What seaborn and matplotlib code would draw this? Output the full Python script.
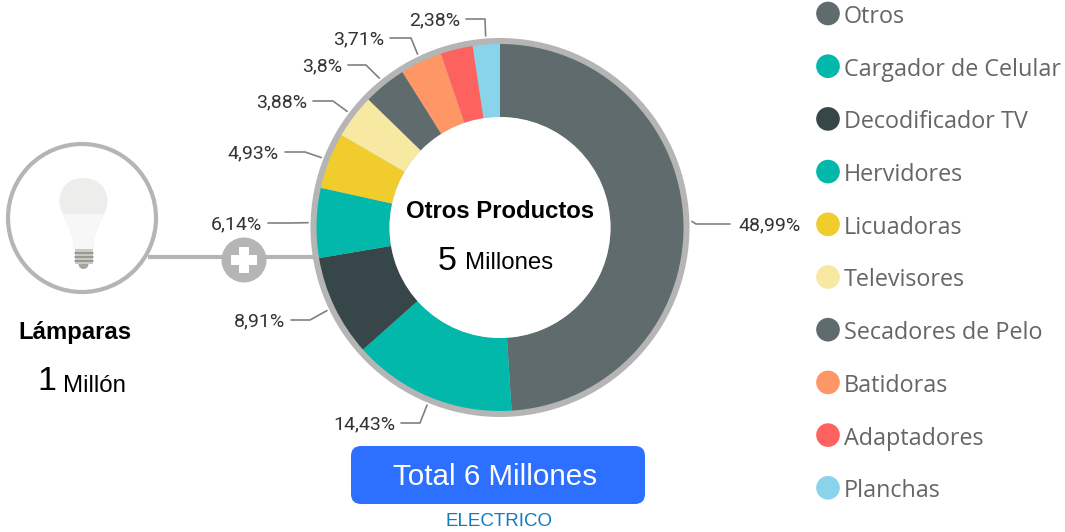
import numpy as np
import pandas as pd
import seaborn as sns
import matplotlib.pyplot as plt
from matplotlib.patches import Circle, FancyBboxPatch, PathPatch, Rectangle
from matplotlib.path import Path

W, H = 1065, 532

categorias = ["Otros", "Cargador de Celular", "Decodificador TV", "Hervidores", "Licuadoras",
              "Televisores", "Secadores de Pelo", "Batidoras", "Adaptadores", "Planchas"]
valores = [48.99, 14.43, 8.91, 6.14, 4.93, 3.88, 3.80, 3.71, 2.83, 2.38]
etiquetas = ["48,99%", "14,43%", "8,91%", "6,14%", "4,93%", "3,88%", "3,8%", "3,71%", None, "2,38%"]
colores = ["#5F6B6D", "#01B8AA", "#374649", "#01B8AA", "#F0CC2D",
           "#F8E9A2", "#5F6B6D", "#FE9666", "#FD625E", "#8AD4EB"]

# layout of the label leaders in pixels: elbow point, end of line
codos = [(696, 224), (420, 423), (310, 320), (290, 223), (305, 152),
         (333, 101), (366, 65), (411, 38), None, (485, 19)]
fines = [(730, 224), (401, 423), (291, 320), (268, 223), (285, 152),
         (313, 101), (348, 65), (390, 38), None, (466, 19)]

sns.set_theme(style="white")
GRIS = "#B5B5B5"
ARIAL = "Liberation Sans"


def py(y):
    return H - y


fig = plt.figure(figsize=(W / 100, H / 100), dpi=100)
ax = fig.add_axes([0, 0, 1, 1])

cx, cy = 500, py(227.5)

# ring, donut
ax.add_patch(Circle((cx, cy), 189.5, color=GRIS, lw=0, zorder=1))
ax.pie(valores, colors=colores, startangle=90, counterclock=False, radius=183.5, center=(cx, cy),
       wedgeprops=dict(width=73, linewidth=0, zorder=2))
ax.add_patch(Circle((cx, cy), 110.5, color="white", lw=0, zorder=3))

# leaders and percent labels
acum = 0
for v, et, codo, fin in zip(valores, etiquetas, codos, fines):
    ang = np.deg2rad((acum + v / 2) * 3.6)
    acum += v
    if et is None:
        continue
    x0 = cx + 192 * np.sin(ang)
    y0 = cy + 192 * np.cos(ang)
    ax.plot([x0, codo[0], fin[0]], [y0, py(codo[1]), py(fin[1])], color="#808080", lw=1.2, zorder=2)
    if fin[0] > cx:
        ax.text(738, py(fin[1]) - 1, et, ha="left", va="center", family="Roboto", fontsize=14, color="#333333")
    else:
        ax.text(fin[0] - 6, py(fin[1]) - 1, et, ha="right", va="center", family="Roboto", fontsize=14, color="#333333")

# centre text
ax.text(cx, py(211), "Otros Productos", ha="center", va="center", family=ARIAL, weight="bold",
        fontsize=17.2, color="black", zorder=4)
ax.text(438, py(261), "5", ha="left", va="center", family=ARIAL, fontsize=24.5, color="black", zorder=4)
ax.text(465, py(263), "Millones", ha="left", va="center", family=ARIAL, fontsize=17.3, color="black", zorder=4)

# connector to the bulb
ax.plot([148, 318], [py(257), py(257)], color=GRIS, lw=3, zorder=0.5, solid_capstyle="butt")
ax.add_patch(Circle((82, py(218)), 74, fc="white", ec=GRIS, lw=3, zorder=1))
ax.add_patch(Circle((244, py(260)), 22.5, color=GRIS, lw=0, zorder=1))
ax.add_patch(Rectangle((231, py(260) - 5), 26, 10, color="white", lw=0, zorder=2))
ax.add_patch(Rectangle((239, py(260) - 13), 10, 26, color="white", lw=0, zorder=2))

# bulb
bx = 83.5
glass = [(bx, 178), (bx + 17, 178), (bx + 24, 190), (bx + 24, 201), (bx + 24, 216), (bx + 10, 225), (bx + 10, 249),
         (bx - 10, 249), (bx - 10, 225), (bx - 24, 216), (bx - 24, 201), (bx - 24, 190), (bx - 17, 178), (bx, 178)]
codes = [Path.MOVETO] + [Path.CURVE4] * 3 + [Path.CURVE4] * 3 + [Path.LINETO] + [Path.CURVE4] * 6
bulb_path = Path([(a, py(b)) for a, b in glass], codes)
ax.add_patch(PathPatch(bulb_path, fc="#EDEDEC", ec="none", zorder=2))
lower = PathPatch(bulb_path, fc="#F7F7F7", ec="none", zorder=2.05)
ax.add_patch(lower)
lower.set_clip_path(Rectangle((bx - 30, py(250)), 60, 36, transform=ax.transData))
ax.add_patch(Rectangle((bx - 9, py(264)), 18, 15, color="#C9C9C4", lw=0, zorder=2))
ax.add_patch(Circle((bx, py(264)), 5, color="#A5A59D", lw=0, zorder=1.9))
for yy in [253, 257, 261]:
    ax.plot([bx - 9, bx + 9], [py(yy), py(yy)], color="#8A8A82", lw=1.1, zorder=2.1)

ax.text(75, py(333), "Lámparas", ha="center", va="center", family=ARIAL, weight="bold", fontsize=17.2, color="black")
ax.text(37, py(382), "1", ha="left", va="center", family=ARIAL, fontsize=24.5, color="black")
ax.text(63, py(386), "Millón", ha="left", va="center", family=ARIAL, fontsize=17.3, color="black")

# total button
ax.add_patch(FancyBboxPatch((361, py(494)), 274, 38, boxstyle="round,pad=10,rounding_size=10",
                            fc="#2D6FFF", ec="none", zorder=2))
ax.text(495, py(477), "Total 6 Millones", ha="center", va="center", family=ARIAL, fontsize=21.3, color="white", zorder=3)
ax.text(499, py(522), "ELECTRICO", ha="center", va="center", family=ARIAL, fontsize=13.5, color="#0F7CC0")

# legend
filas = pd.DataFrame({"x": [828] * len(categorias),
                      "y": [py(13.5 + 52.7 * i) for i in range(len(categorias))],
                      "fila": range(len(categorias))})
sns.scatterplot(data=filas, x="x", y="y", hue="fila", palette=colores, s=290, linewidth=0, legend=False, ax=ax, zorder=3)
for nombre, yy in zip(categorias, filas["y"]):
    ax.text(844, yy - 3.5, nombre, ha="left", va="center", family="Open Sans", fontsize=16.8, color="#666666")

ax.set_xlim(0, W)
ax.set_ylim(0, H)
ax.set_xlabel("")
ax.set_ylabel("")
ax.set_axis_off()

fig.savefig("out.png", dpi=100)
